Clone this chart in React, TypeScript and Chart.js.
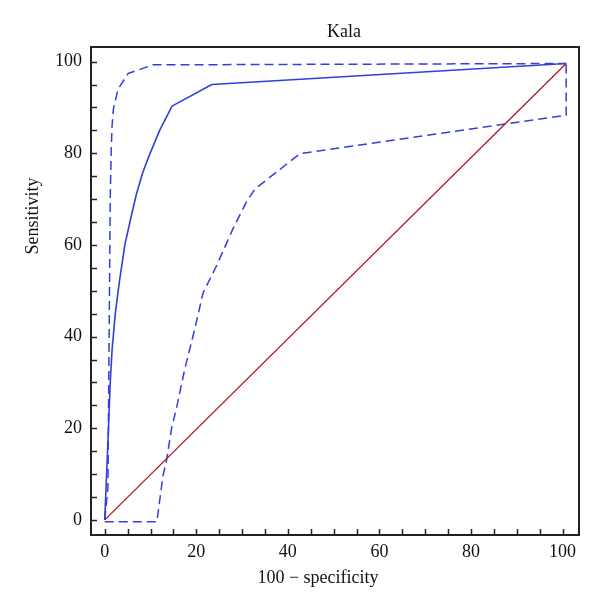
import React, { useEffect, useRef } from "react";
import { Chart, registerables } from "chart.js";
Chart.register(...registerables);

const chartTitle = "Kala";
const xTitle = "100 \u2212 specificity";
const yTitle = "Sensitivity";

const rocX = [0, 0.9, 1.2, 1.6, 2.3, 3.2, 4.4, 5.5, 6.9, 8.2, 9.5, 12, 14.7, 23.4, 100.8];
const rocY = [0, 22, 30, 37, 45, 52, 60, 65, 71, 75.5, 79, 85, 90.3, 95, 99.6];

const upperX = [0, 0.7, 1.0, 1.2, 1.4, 1.6, 1.9, 2.9, 5.1, 10.5, 100.8];
const upperY = [0, 7, 45, 70, 80, 86, 89.7, 94, 97.4, 99.3, 99.6];

const lowerX = [0, 11.4, 12.7, 13.5, 14.6, 15.7, 17.5, 19.5, 21.5, 24.4, 28, 30.9, 32.8, 42.6, 100.8, 100.8];
const lowerY = [-0.4, -0.4, 9.5, 13, 20, 24.5, 33, 41, 49.6, 55.4, 63.5, 69.3, 72.2, 79.9, 88.3, 99.6];

const diagX = [0, 100.8];
const diagY = [0, 99.6];

const tickValues = [0, 20, 40, 60, 80, 100];

const pts = (xs: number[], ys: number[]) => xs.map((x, i) => ({ x, y: ys[i] }));

const FONT = "'Liberation Serif', 'Times New Roman', serif";
const BLUE = "#3140d8";
const RED = "#b0141e";

const framePlugin = {
  id: "frameAndText",
  afterDraw(chart: any) {
    const { ctx, chartArea: a, scales } = chart;
    ctx.save();
    ctx.strokeStyle = "#222";
    ctx.lineWidth = 1.5;
    for (let v = 0; v <= 100; v += 5) {
      const px = Math.round(scales.x.getPixelForValue(v)) + 0.5;
      ctx.beginPath();
      ctx.moveTo(px, a.bottom);
      ctx.lineTo(px, a.bottom - 6);
      ctx.stroke();
      const py = Math.round(scales.y.getPixelForValue(v)) + 0.5;
      ctx.beginPath();
      ctx.moveTo(a.left, py);
      ctx.lineTo(a.left + 6, py);
      ctx.stroke();
    }
    ctx.lineWidth = 2;
    ctx.strokeRect(a.left, a.top, a.right - a.left, a.bottom - a.top);
    ctx.fillStyle = "#111";
    ctx.font = `18px ${FONT}`;
    ctx.textAlign = "center";
    ctx.textBaseline = "alphabetic";
    ctx.fillText(chartTitle, 344, 37);
    ctx.fillText(xTitle, 318, 583);
    ctx.translate(38, 216);
    ctx.rotate(-Math.PI / 2);
    ctx.fillText(yTitle, 0, 0);
    ctx.restore();
  },
};

export default function App() {
  const ref = useRef<HTMLCanvasElement | null>(null);
  useEffect(() => {
    if (!ref.current) return;
    const common = { pointRadius: 0, fill: false, tension: 0, borderJoinStyle: "round" as const };
    const chart = new Chart(ref.current, {
      type: "line",
      data: {
        datasets: [
          { label: "Diagonal", data: pts(diagX, diagY), borderColor: RED, borderWidth: 1.3, ...common },
          { label: "Lower", data: pts(lowerX, lowerY), borderColor: BLUE, borderWidth: 1.5, borderDash: [9, 5], ...common },
          { label: "Upper", data: pts(upperX, upperY), borderColor: BLUE, borderWidth: 1.5, borderDash: [9, 5], ...common },
          { label: "ROC", data: pts(rocX, rocY), borderColor: BLUE, borderWidth: 1.6, ...common },
        ],
      },
      options: {
        animation: false,
        responsive: false,
        maintainAspectRatio: false,
        layout: { padding: { top: 47, right: 21, left: 0, bottom: 0 } },
        plugins: { legend: { display: false }, tooltip: { enabled: false }, title: { display: false } },
        scales: {
          x: {
            type: "linear",
            min: -3,
            max: 103.6,
            grid: { display: false, drawTicks: false },
            border: { display: false },
            afterFit: (s: any) => { s.height = 76; },
            afterBuildTicks: (s: any) => { s.ticks = tickValues.map((v) => ({ value: v })); },
            ticks: { font: { family: FONT, size: 18 }, color: "#111", padding: 6, maxRotation: 0, autoSkip: false },
          },
          y: {
            type: "linear",
            min: -3.3,
            max: 103.2,
            grid: { display: false, drawTicks: false },
            border: { display: false },
            afterFit: (s: any) => { s.width = 91; },
            afterBuildTicks: (s: any) => { s.ticks = tickValues.map((v) => ({ value: v })); },
            ticks: { font: { family: FONT, size: 18 }, color: "#111", padding: 9, autoSkip: false },
          },
        },
      },
      plugins: [framePlugin],
    });
    return () => chart.destroy();
  }, []);
  return (
    <div style={{ position: "absolute", left: 0, top: 0, width: 600, height: 611, background: "#fff" }}>
      <canvas ref={ref} width={600} height={611} style={{ display: "block" }} />
    </div>
  );
}
